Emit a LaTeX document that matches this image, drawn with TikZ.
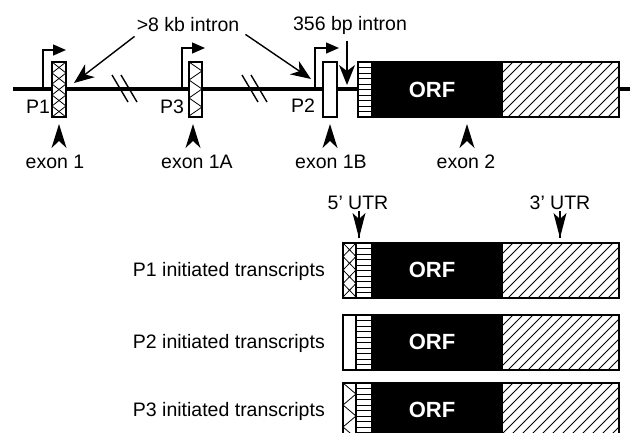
\documentclass[tikz,border=0pt]{standalone}
\usepackage{fontspec}
\setmainfont{Liberation Sans}
\usetikzlibrary{arrows.meta}

\newcommand\XHatch[5]{%
  \begin{scope}
    \clip (#1,#2) rectangle ++(#3,#4);
    \foreach \k in {0,...,9}{
      \draw[thinln] (#1,#2+\k*#5-#5) -- (#1+#3,#2+\k*#5);
      \draw[thinln] (#1+#3,#2+\k*#5-#5) -- (#1,#2+\k*#5);
    }
  \end{scope}}
\newcommand\HStripes[5]{%
  \foreach \k in {1,...,9}{
    \draw[thinln] (#1,#2+\k*#5) -- (#1+#3,#2+\k*#5);
  }}
\newcommand\SlashHatch[5]{%
  \begin{scope}
    \clip (#1,#2) rectangle ++(#3,#4);
    \foreach \k in {0,...,19}{
      \draw[thinln] (#1-#4+\k*#5,#2+#4) -- (#1+\k*#5,#2);
    }
  \end{scope}}
\newcommand\ZigZag[5]{%
  \begin{scope}
    \clip (#1,#2) rectangle ++(#3,#4);
    \foreach \k in {0,...,4}{
      \draw[thinln] (#1,#2+\k*#5) -- (#1+#3,#2+\k*#5+0.5*#5) -- (#1,#2+\k*#5+#5);
    }
  \end{scope}}

\begin{document}
\begin{tikzpicture}[x=1pt,y=-1pt,
  lab/.style={font=\fontsize{19.5}{22}\selectfont, inner sep=0pt},
  orflab/.style={font=\fontsize{22}{24}\selectfont\bfseries, text=white, inner sep=0pt},
  bx/.style={draw=black, line width=1.2pt},
  thinln/.style={line width=0.8pt},
  prom/.style={line width=1.4pt, -{Triangle[length=13pt,width=11pt]}},
  intr/.style={line width=1.4pt, -{Stealth[length=20pt,width=16pt,inset=6pt]}},
  brk/.style={line width=1.4pt}
]
\useasboundingbox (0,0) rectangle (630,432);
\clip (0,0) rectangle (630,432);
\fill[white] (0,0) rectangle (630,432);

% ---------- gene line ----------
\draw[line width=4.4pt] (13,89) -- (630,89);
% breaks
\draw[brk] (112,75) -- (128,102);
\draw[brk] (121,75) -- (137,102);
\draw[brk] (242,75) -- (258,102);
\draw[brk] (251,75) -- (267,102);

% exon 1
\fill[white] (52,62) rectangle (66,117);
\XHatch{52}{62}{14}{55}{11}
\draw[bx] (52,62) rectangle (66,117);
% exon 1A
\fill[white] (189,62) rectangle (202,117);
\ZigZag{189}{62}{13}{55}{18}
\draw[bx] (189,62) rectangle (202,117);
% exon 1B
\draw[bx, fill=white] (323,62) rectangle (337,117);
% exon 2
\fill[white] (358,62) rectangle (619,117);
\HStripes{358}{62}{13}{55}{5.5}
\fill[black] (371,62) rectangle (503,117);
\SlashHatch{503}{62}{116}{55}{10}
\draw[bx] (358,62) rectangle (619,117);
\node[orflab] (orf0) at (432,90) {ORF};

% promoters
\draw[prom] (43,89) -- (43,50) -- (66,50);
\draw[prom] (182,89) -- (182,48) -- (205,48);
\draw[prom] (315,89) -- (315,48) -- (339,48);
\node[lab] (p1) at (38,107) {P1};
\node[lab] (p3) at (172,107) {P3};
\node[lab] (p2) at (303,106) {P2};

% intron labels
\node[lab] (kb) at (188,25) {>8 kb intron};
\node[lab] (bp) at (350,25) {356 bp intron};
\coordinate (k1) at (74,83);
\coordinate (k2) at (311,79);
\draw[intr] ([xshift=-2pt,yshift=-4pt]kb.south west) -- (k1);
\draw[intr] ([xshift=6pt,yshift=-2pt]kb.south east) -- (k2);
\coordinate (b1) at (347,41);
\coordinate (b2) at (347,85);
\draw[intr] (b1) -- (b2);

% exon labels and arrowheads
\node[lab] (e1) at (55,162) {exon 1};
\node[lab] (e1a) at (197,162) {exon 1A};
\node[lab] (e1b) at (331,162) {exon 1B};
\node[lab] (e2) at (466,162) {exon 2};
\foreach \n/\x in {a/59,b/193,c/330,d/467}{
  \coordinate (\n tip) at (\x,124);
  \fill (\n tip) -- ++(7.5,24) -- ++(-7.5,-7) -- ++(-7.5,7) -- cycle;
}

% ---------- transcripts ----------
\node[lab] (u5) at (358,203) {5' UTR};
\node[lab] (u3) at (560,203) {3' UTR};
\coordinate (u5b) at (359,238);
\coordinate (u3b) at (560,238);
\foreach \c in {u5b,u3b}{
  \draw[line width=1.4pt] (\c) -- ++(0,-27);
  \fill (\c) -- ++(6.5,-25) -- ++(-6.5,6) -- ++(-6.5,-6) -- cycle;
}

\foreach \y/\t in {243/1,315/2,383/3}{
  \fill[white] (343,\y) rectangle (619,\y+55);
  \HStripes{356}{\y}{15}{55}{5.5}
  \fill[black] (371,\y) rectangle (503,\y+55);
  \SlashHatch{503}{\y}{116}{55}{10}
}
\XHatch{343}{243}{13}{55}{13.5}
\ZigZag{343}{383}{13}{55}{22}
\foreach \y in {243,315,383}{
  \draw[bx] (343,\y) rectangle (619,\y+55);
  \draw[bx] (356,\y) -- (356,\y+55);
}
\node[orflab] (orf1) at (432,270) {ORF};
\node[orflab] (orf2) at (432,342) {ORF};
\node[orflab] (orf3) at (432,410) {ORF};
\node[lab, anchor=east] (t1) at (325,271) {P1 initiated transcripts};
\node[lab, anchor=east] (t2) at (325,343) {P2 initiated transcripts};
\node[lab, anchor=east] (t3) at (325,411) {P3 initiated transcripts};
\end{tikzpicture}
\end{document}
